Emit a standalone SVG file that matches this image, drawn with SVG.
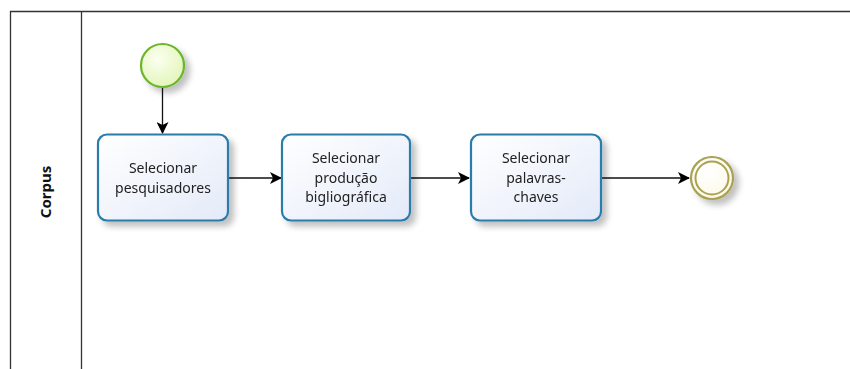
<svg xmlns="http://www.w3.org/2000/svg" width="850" height="369" viewBox="0 0 850 369">
  <defs>
    <linearGradient id="taskFill" x1="0" y1="0" x2="1" y2="1">
      <stop offset="0" stop-color="#ffffff"/>
      <stop offset="1" stop-color="#e3eaf8"/>
    </linearGradient>
    <radialGradient id="startFill" cx="0.4" cy="0.35" r="0.7">
      <stop offset="0" stop-color="#fbfff0"/>
      <stop offset="1" stop-color="#e2f5b8"/>
    </radialGradient>
    <radialGradient id="endFill" cx="0.4" cy="0.35" r="0.7">
      <stop offset="0" stop-color="#ffffff"/>
      <stop offset="1" stop-color="#fdf8e8"/>
    </radialGradient>
    <filter id="shadow" x="-20%" y="-20%" width="150%" height="150%">
      <feGaussianBlur in="SourceAlpha" stdDeviation="3"/>
      <feOffset dx="5" dy="5" result="b"/>
      <feComponentTransfer><feFuncA type="linear" slope="0.25"/></feComponentTransfer>
      <feMerge><feMergeNode/><feMergeNode in="SourceGraphic"/></feMerge>
    </filter>
    <marker id="arrow" viewBox="0 0 12 12" refX="11" refY="6" markerWidth="12" markerHeight="12" markerUnits="userSpaceOnUse" orient="auto">
      <path d="M0,0 L12,6 L0,12 L3,6 Z" fill="#000"/>
    </marker>
  </defs>
  <style>
    .task rect { fill: url(#taskFill); stroke: #2b7bab; stroke-width: 2.2; }
    .label { font-family: "Noto Sans", "Open Sans", sans-serif; font-size: 14px; fill: #222; text-anchor: middle; }
    .conn { stroke: #111; stroke-width: 1.3; fill: none; marker-end: url(#arrow); }
    .pool { stroke: #333; stroke-width: 1.3; fill: none; }
  </style>

  <rect width="850" height="369" fill="#ffffff"/>

  <g id="pool">
    <path class="pool" d="M10.5,369 V11.5 H850"/>
    <path class="pool" d="M81.5,11.5 V369"/>
    <text transform="translate(51,192) rotate(-90)" font-family="Noto Sans, Open Sans, sans-serif" font-size="15" font-weight="bold" text-anchor="middle" fill="#111">Corpus</text>
  </g>

  <g id="connectors">
    <path class="conn" d="M162.5,88 V133"/>
    <path class="conn" d="M228,178 H281"/>
    <path class="conn" d="M410,178 H469"/>
    <path class="conn" d="M602,178 H689"/>
  </g>

  <g id="start" filter="url(#shadow)">
    <circle cx="162.5" cy="65.5" r="21.5" fill="url(#startFill)" stroke="#6cb52d" stroke-width="2.2"/>
  </g>

  <g id="task1" class="task" filter="url(#shadow)">
    <rect x="98" y="134.5" width="130" height="86" rx="9"/>
    <text class="label" x="163" y="172.5">Selecionar</text>
    <text class="label" x="163" y="192.5">pesquisadores</text>
  </g>

  <g id="task2" class="task" filter="url(#shadow)">
    <rect x="282" y="134.5" width="128" height="86" rx="9"/>
    <text class="label" x="346" y="163">Selecionar</text>
    <text class="label" x="346" y="182.5">produção</text>
    <text class="label" x="346" y="202">bigliográfica</text>
  </g>

  <g id="task3" class="task" filter="url(#shadow)">
    <rect x="471" y="134.5" width="130" height="86" rx="9"/>
    <text class="label" x="536" y="163">Selecionar</text>
    <text class="label" x="536" y="182.5">palavras-</text>
    <text class="label" x="536" y="202">chaves</text>
  </g>

  <g id="end" filter="url(#shadow)">
    <circle cx="712" cy="178" r="21" fill="url(#endFill)" stroke="#a9a253" stroke-width="2.2"/>
    <circle cx="712" cy="178" r="16.5" fill="none" stroke="#a9a253" stroke-width="2"/>
  </g>
</svg>
